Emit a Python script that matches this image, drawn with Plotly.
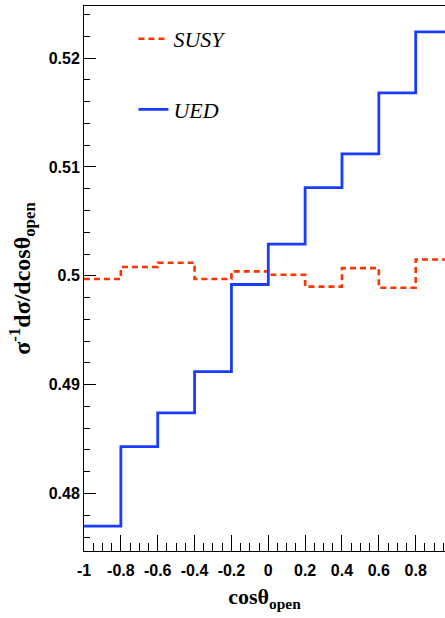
import plotly.graph_objects as go

# bin edges of cos(theta_open)
bin_edges = [-1.0, -0.8, -0.6, -0.4, -0.2, 0.0, 0.2, 0.4, 0.6, 0.8, 1.0]
# normalized distributions per bin
susy_vals = [0.4997, 0.5008, 0.5012, 0.4997, 0.5004, 0.5001, 0.4990, 0.5007, 0.4989, 0.5015]
ued_vals = [0.4770, 0.4843, 0.4874, 0.4912, 0.4992, 0.5029, 0.5081, 0.5112, 0.5168, 0.5224]

x_tickvals = [-1.0, -0.8, -0.6, -0.4, -0.2, 0.0, 0.2, 0.4, 0.6, 0.8]
x_ticktext = ["-1", "-0.8", "-0.6", "-0.4", "-0.2", "0", "0.2", "0.4", "0.6", "0.8"]
y_tickvals = [0.48, 0.49, 0.50, 0.51, 0.52]
y_ticktext = ["0.48", "0.49", "0.5", "0.51", "0.52"]

fig = go.Figure()
fig.add_trace(go.Scatter(
    x=bin_edges, y=susy_vals + [susy_vals[-1]], mode="lines", line_shape="hv",
    name="<i>SUSY</i>", legendgroup="a",
    line=dict(color="#ff3300", width=2.6, dash="6px,4px"),
))
fig.add_trace(go.Scatter(
    x=bin_edges, y=ued_vals + [ued_vals[-1]], mode="lines", line_shape="hv",
    name="<i>UED</i>", legendgroup="b",
    line=dict(color="#1a3cff", width=2.8),
))

tickfont = dict(family="Liberation Sans", size=16, color="black", weight="bold")
titlefont = dict(family="Liberation Serif", size=22, color="black")

fig.update_layout(
    width=445, height=618,
    margin=dict(l=84, r=0, t=6, b=67),
    paper_bgcolor="white", plot_bgcolor="white",
    showlegend=True,
    legend=dict(x=0.137, y=0.978, xanchor="left", yanchor="top",
                bgcolor="rgba(0,0,0,0)", tracegroupgap=39,
                font=dict(family="Liberation Serif", size=22, color="black")),
    xaxis=dict(
        range=[-1.0, 0.959], showgrid=False, zeroline=False,
        showline=True, linecolor="black", linewidth=1, mirror=True,
        ticks="inside", ticklen=16, tickwidth=1, tickcolor="black",
        tickvals=x_tickvals, ticktext=x_ticktext, tickfont=tickfont,
        ticklabelstandoff=5,
        minor=dict(ticks="inside", ticklen=8, tickwidth=1, tickcolor="black", dtick=0.05),
        title=dict(text="<b>cosθ<sub>open</sub></b>", font=titlefont, standoff=10),
    ),
    yaxis=dict(
        range=[0.47472, 0.52478], showgrid=False, zeroline=False,
        showline=True, linecolor="black", linewidth=1,
        ticks="inside", ticklen=12, tickwidth=1, tickcolor="black",
        tickvals=y_tickvals, ticktext=y_ticktext, tickfont=tickfont,
        minor=dict(ticks="inside", ticklen=6, tickwidth=1, tickcolor="black", dtick=0.002),
        title=dict(text="<b>σ<sup>-1</sup>dσ/dcosθ<sub>open</sub></b>",
                   font=dict(family="Liberation Serif", size=24, color="black"), standoff=11),
    ),
)

fig.write_html("out.html")
